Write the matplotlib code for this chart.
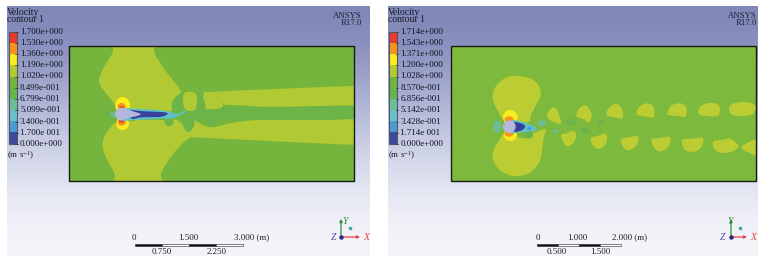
import numpy as np
import matplotlib
matplotlib.use("Agg")
import matplotlib.pyplot as plt
from matplotlib.patches import Polygon, Rectangle, Ellipse

plt.rcParams['font.family'] = ['Liberation Serif', 'DejaVu Serif']
plt.rcParams['mathtext.fontset'] = 'stix'
plt.rcParams['mathtext.default'] = 'regular'

# colorbar labels
labels_left = ["1.700e+000", "1.530e+000", "1.360e+000", "1.190e+000", "1.020e+000", "8.499e-001",
               "6.799e-001", "5.099e-001", "3.400e-001", "1.700e 001", "0.000e+000"]
labels_right = ["1.714e+000", "1.543e+000", "1.371e+000", "1.200e+000", "1.028e+000", "8.570e-001",
                "6.856e-001", "5.142e-001", "3.428e-001", "1.714e 001", "0.000e+000"]
band_colors = ["#e63a2a", "#f6921e", "#fbec1e", "#b3cb30", "#72b43e",
               "#66b44c", "#6bbd96", "#68c3c9", "#4a9bd0", "#3b4a9b"]

# scale bar labels
scale_top_left = ["0", "1.500", "3.000 (m)"]
scale_bottom_left = ["0.750", "2.250"]
scale_top_right = ["0", "1.000", "2.000 (m)"]
scale_bottom_right = ["0.500", "1.500"]

LIGHT = "#b1c933"
GREEN_L = "#75b53e"
GREEN_R = "#7db93c"
BLOB = "#6cb348"
YELLOW = "#fbec1e"
ORANGE = "#f6921e"
RED = "#e63a2a"
CYAN = "#5fc0c8"
TEAL = "#6cbc96"
BLUE = "#4a9bd0"
DARK = "#37419a"
BODY = "#b5b8dc"

# contour outlines, left panel (traced on the 3x crop starting at 70,40)
left_light = [
    [(128, -10), (258, -10), (252, 30), (262, 55), (285, 90), (310, 122), (333, 155), (318, 170), (308, 185),
     (306, 210), (290, 215), (210, 212), (180, 205), (137, 195), (125, 180), (108, 160), (90, 135), (88, 115),
     (100, 85), (118, 55), (130, 30)],
    [(135, 250), (120, 265), (105, 285), (97, 315), (105, 345), (120, 375), (135, 405), (140, 440), (275, 440),
     (272, 405), (290, 370), (315, 335), (340, 308), (361, 288), (345, 262), (320, 240), (280, 240), (210, 240),
     (175, 245)],
    [(402, 160), (415, 156), (640, 146), (860, 137), (900, 135), (900, 198), (860, 198), (600, 200), (520, 197),
     (470, 195), (440, 210), (405, 207), (400, 185)],
    [(358, 290), (400, 293), (600, 303), (860, 315), (900, 316), (900, 234), (860, 235), (600, 238), (490, 248),
     (420, 262), (370, 240), (345, 245), (350, 275)],
]
left_blobs = [
    [(308, 210), (310, 180), (335, 160), (375, 158), (395, 165), (406, 205), (380, 222), (340, 222)],
    [(285, 235), (305, 232), (310, 250), (296, 259), (285, 250)],
    [(340, 225), (368, 225), (373, 255), (356, 276), (340, 258)],
    [(410, 228), (436, 226), (436, 248), (422, 257), (411, 245)],
    [(370, 212), (450, 205), (460, 188), (472, 205), (525, 197), (600, 203), (870, 198), (870, 235), (600, 240),
     (505, 236), (495, 247), (482, 238), (420, 235), (370, 236)],
]
left_inner = [[(342, 160), (378, 162), (376, 208), (344, 207)]]

# contour outlines, right panel (traced on the 3x crop starting at 450,40)
right_lobes = [
    [(200, 108), (170, 112), (145, 130), (130, 155), (130, 185), (145, 215), (165, 242), (205, 248), (238, 245),
     (243, 225), (258, 195), (272, 165), (265, 135), (240, 115)],
    [(162, 280), (145, 305), (128, 340), (135, 372), (160, 398), (200, 408), (240, 398), (268, 365), (278, 320),
     (280, 295), (288, 268), (262, 275), (240, 285), (225, 295), (200, 290), (180, 280)],
]
right_spots = [
    [(291, 228), (298, 210), (310, 201), (320, 208), (328, 228), (333, 250), (315, 248), (298, 238)],
    [(379, 225), (388, 205), (405, 196), (417, 205), (425, 225), (417, 247), (402, 238), (385, 232)],
    [(469, 220), (478, 202), (495, 192), (510, 197), (518, 215), (516, 236), (495, 232), (475, 228)],
    [(559, 220), (568, 200), (590, 190), (605, 195), (613, 212), (610, 232), (590, 230), (565, 226)],
    [(652, 220), (662, 198), (685, 190), (702, 194), (710, 208), (706, 230), (685, 228), (658, 226)],
    [(745, 212), (755, 196), (780, 189), (803, 193), (810, 210), (802, 228), (775, 228), (750, 224)],
    [(837, 205), (848, 192), (875, 186), (905, 190), (918, 202), (908, 222), (880, 228), (845, 224)],
    [(333, 285), (350, 280), (372, 273), (378, 290), (370, 308), (355, 319), (342, 310)],
    [(422, 295), (445, 287), (467, 281), (471, 300), (462, 318), (445, 327), (430, 318)],
    [(513, 298), (540, 291), (564, 289), (562, 310), (550, 325), (532, 331), (518, 318)],
    [(605, 298), (630, 294), (661, 291), (658, 315), (645, 330), (625, 334), (610, 320)],
    [(697, 300), (725, 296), (758, 294), (757, 315), (745, 330), (725, 336), (703, 328)],
    [(789, 305), (815, 300), (840, 296), (858, 308), (866, 320), (850, 333), (820, 339), (795, 330)],
    [(875, 320), (890, 310), (925, 298), (925, 345), (895, 337), (880, 330)],
]


def smooth(pts, n=8):
    # closed catmull-rom through the traced points
    p = np.array(pts, dtype=float)
    out = []
    for i in range(len(p)):
        p0, p1, p2, p3 = p[i - 1], p[i], p[(i + 1) % len(p)], p[(i + 2) % len(p)]
        for t in np.arange(n) / n:
            out.append(0.5 * (2 * p1 + (p2 - p0) * t + (2 * p0 - 5 * p1 + 4 * p2 - p3) * t ** 2
                              + (3 * p1 - p0 - 3 * p2 + p3) * t ** 3))
    return np.array(out)


def add_shapes(ax, shapes, color, x0, y0, clip, z=3):
    for s in shapes:
        pts = smooth(s) / 3 + [x0, y0]
        patch = Polygon(pts, closed=True, fc=color, ec="none", zorder=z)
        ax.add_patch(patch)
        patch.set_clip_path(clip)


def add_oval(ax, cx, cy, w, h, color, x0, y0, clip, z=4):
    patch = Ellipse((x0 + cx / 3, y0 + cy / 3), w / 3, h / 3, fc=color, ec="none", zorder=z)
    ax.add_patch(patch)
    patch.set_clip_path(clip)


def background(ax, x1, x2):
    grad = np.array([[0.50, 0.53, 0.72], [0.62, 0.65, 0.80], [0.76, 0.78, 0.88], [0.88, 0.89, 0.94], [0.96, 0.96, 0.98]])
    ax.imshow(grad.reshape(5, 1, 3), extent=(x1, x2, 256, 6), aspect="auto", interpolation="bicubic", zorder=0)


def colorbar(ax, x1, x2, xt, labels):
    y_top, y_bot = 32, 143.5
    step = (y_bot - y_top) / len(band_colors)
    for i, c in enumerate(band_colors):
        ax.add_patch(Rectangle((x1, y_top + i * step), x2 - x1, step, fc=c, ec="none", zorder=3))
    ax.add_patch(Rectangle((x1, y_top), x2 - x1, y_bot - y_top, fc="none", ec="#555566", lw=0.8, zorder=4))
    for i, lab in enumerate(labels):
        y = 31.5 + i * 11.25
        ax.plot([x2 - 1.5, x2 + 1], [y, y], color="#333344", lw=0.5, zorder=4)
        ax.text(xt, y, lab, fontsize=6.5, va="center", ha="left", color="#111122", zorder=5)


def scale_bar(ax, x1, x2, top, bottom, xt, xb):
    n = 4
    w = (x2 - x1) / n
    for i in range(n):
        ax.add_patch(Rectangle((x1 + i * w, 243.5), w, 2.4, fc="#111111" if i % 2 == 0 else "white",
                               ec="#222222", lw=0.4, zorder=3))
    for x, lab in zip(xt, top):
        ax.text(x, 237.5, lab, fontsize=6.5, ha="center", va="center", color="#222222")
    for x, lab in zip(xb, bottom):
        ax.text(x, 252, lab, fontsize=6.5, ha="center", va="center", color="#222222")


def triad(ax, x0, y0, xy, xx, xz, xd):
    ax.annotate("", xy=(x0, 219), xytext=(x0, y0), arrowprops=dict(arrowstyle="-|>", color="#2e8b3d", lw=0.9, mutation_scale=4, shrinkA=0, shrinkB=0), zorder=5)
    ax.annotate("", xy=(xx - 6, y0), xytext=(x0, y0), arrowprops=dict(arrowstyle="-|>", color="#e8434a", lw=0.9, mutation_scale=4, shrinkA=0, shrinkB=0), zorder=5)
    ax.plot([x0], [y0], "o", ms=2.2, color="#2b2b7a", zorder=6)
    ax.plot([xd], [227.5], "o", ms=1.6, color="#3aa8a8", zorder=6)
    ax.text(xy, 222, "Y", style="italic", fontsize=7, color="#2e8b3d", ha="center", va="center")
    ax.text(xx, y0, "X", style="italic", fontsize=7, color="#e8434a", ha="center", va="center")
    ax.text(xz, y0, "Z", style="italic", fontsize=7, color="#4a4aa0", ha="center", va="center")


fig = plt.figure(figsize=(7.68, 2.72), dpi=100)
ax = fig.add_axes([0, 0, 1, 1])
ax.axis("off")

background(ax, 7, 370)
background(ax, 388, 758)
ax.set_xlim(0, 768)
ax.set_ylim(272, 0)

# titles and annotations
for x, xa in [(7, 362), (388, 757)]:
    ax.text(x, 12.5, "Velocity", fontsize=6.9, va="center", color="#1a1a2a")
    ax.text(x, 20, "contour 1", fontsize=6.9, va="center", color="#1a1a2a")
    ax.text(x, 156, "(m s$^{-1}$)", fontsize=6.5, va="center", color="#1a1a2a")
    ax.text(xa, 15.5, "ANSYS", fontsize=6.3, va="center", ha="right", color="#222233")
    ax.text(xa, 23, "R17.0", fontsize=6.3, va="center", ha="right", color="#222233")

colorbar(ax, 8.5, 16.5, 20, labels_left)
colorbar(ax, 389, 397, 400.5, labels_right)

# left contour panel
rect_l = Rectangle((68.5, 45.5), 285, 135.5, fc=GREEN_L, ec="none", zorder=2)
ax.add_patch(rect_l)
add_shapes(ax, left_light, LIGHT, 70, 40, rect_l)
add_shapes(ax, left_blobs, BLOB, 70, 40, rect_l)
add_shapes(ax, left_inner, LIGHT, 70, 40, rect_l)
add_oval(ax, 122, 224, 26, 34, BLOB, 70, 40, rect_l)
add_oval(ax, 128, 224, 14, 18, TEAL, 70, 40, rect_l)
add_oval(ax, 158, 196, 44, 50, YELLOW, 70, 40, rect_l)
add_oval(ax, 158, 250, 38, 40, YELLOW, 70, 40, rect_l)
add_oval(ax, 155, 199, 24, 20, ORANGE, 70, 40, rect_l)
add_oval(ax, 155, 247, 24, 20, ORANGE, 70, 40, rect_l)
add_oval(ax, 155, 204, 16, 10, RED, 70, 40, rect_l)
add_oval(ax, 155, 243, 16, 10, RED, 70, 40, rect_l)
add_shapes(ax, [[(150, 208), (195, 206), (290, 213), (320, 222), (345, 212), (347, 217), (325, 228),
                 (305, 236), (275, 236), (200, 240), (150, 240)]], CYAN, 70, 40, rect_l, z=5)
add_shapes(ax, [[(180, 212), (225, 214), (290, 218), (275, 230), (215, 232), (185, 236)]], DARK, 70, 40, rect_l, z=5)
add_shapes(ax, [[(135, 222), (142, 208), (155, 203), (175, 210), (212, 223), (175, 234), (155, 241), (142, 236)]],
           BODY, 70, 40, rect_l, z=6)
ax.add_patch(Rectangle((68.5, 45.5), 285, 135.5, fc="none", ec="#1a1a1a", lw=1.0, zorder=7))

# right contour panel
rect_r = Rectangle((451, 45.5), 305, 135.5, fc=GREEN_R, ec="none", zorder=2)
ax.add_patch(rect_r)
add_shapes(ax, right_lobes, "#bccd33", 450, 40, rect_r)
add_shapes(ax, right_spots, "#bccd33", 450, 40, rect_r)
for cx, cy, w, h, c in [(363, 247, 30, 22, BLOB), (405, 272, 26, 20, BLOB), (235, 285, 28, 22, BLOB),
                        (453, 247, 18, 14, BLOB), (275, 250, 26, 18, TEAL), (315, 273, 16, 12, TEAL),
                        (142, 260, 26, 36, TEAL), (181, 232, 44, 44, YELLOW), (181, 286, 40, 34, YELLOW),
                        (177, 238, 26, 18, ORANGE), (177, 282, 26, 16, ORANGE)]:
    add_oval(ax, cx, cy, w, h, c, 450, 40, rect_r)
add_shapes(ax, [[(185, 243), (215, 245), (250, 258), (260, 268), (240, 275), (205, 277), (185, 278)]], CYAN, 450, 40, rect_r, z=5)
add_shapes(ax, [[(190, 247), (218, 252), (225, 262), (212, 272), (190, 274)]], DARK, 450, 40, rect_r, z=5)
add_oval(ax, 238, 266, 14, 10, BLUE, 450, 40, rect_r, z=5)
add_oval(ax, 178, 260, 38, 38, BODY, 450, 40, rect_r, z=6)
ax.add_patch(Rectangle((451, 45.5), 305, 135.5, fc="none", ec="#1a1a1a", lw=1.0, zorder=7))

# scale bars and triads
scale_bar(ax, 135, 242.7, scale_top_left, scale_bottom_left, [134, 188, 252], [162, 217])
scale_bar(ax, 537.3, 620.7, scale_top_right, scale_bottom_right, [538, 577, 630], [557, 600])
triad(ax, 341, 237, 345, 366, 334, 350)
triad(ax, 731, 237, 730, 753, 723, 740)

fig.savefig("out.png", dpi=100)
